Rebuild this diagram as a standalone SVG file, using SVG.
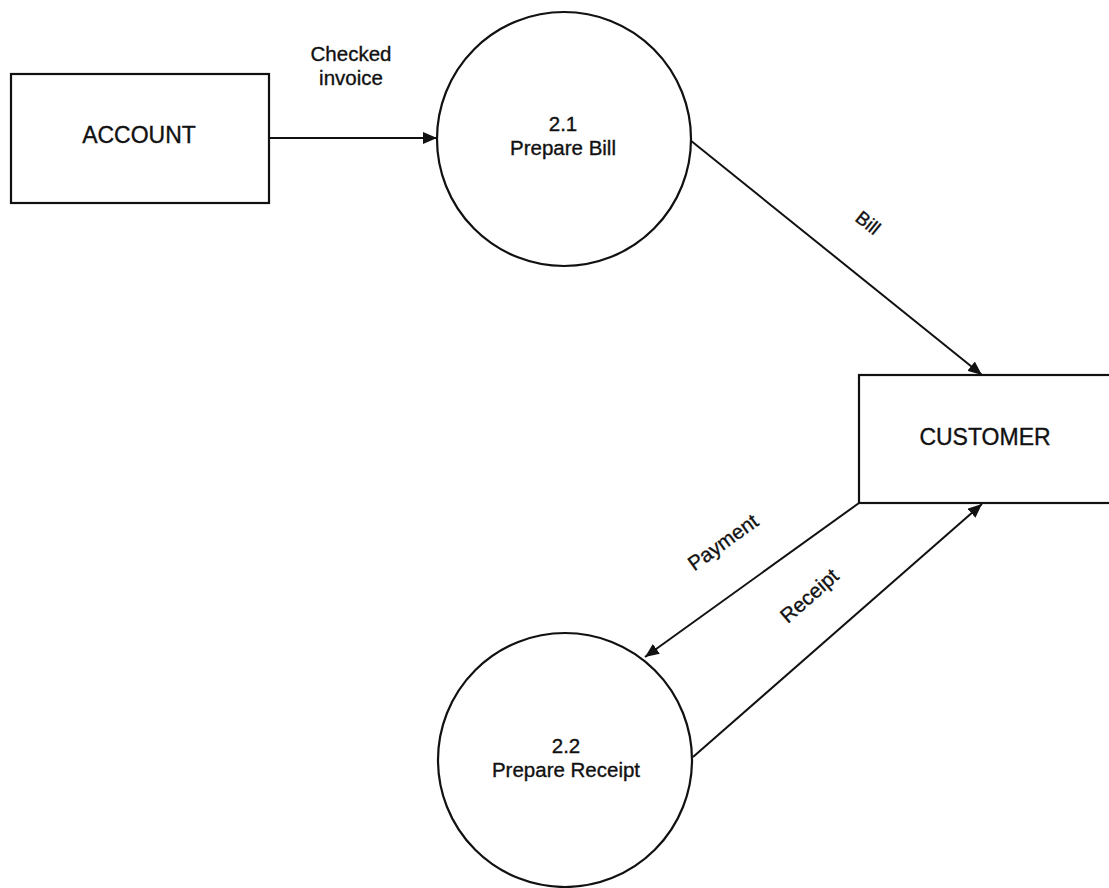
<svg xmlns="http://www.w3.org/2000/svg" width="1109" height="888" viewBox="0 0 1109 888">
  <style>
    .entity { fill: #fff; stroke: #111; stroke-width: 2.2; }
    .process { fill: #fff; stroke: #111; stroke-width: 2.2; }
    .flow { fill: none; stroke: #111; stroke-width: 2; }
    .label { font-family: "Liberation Sans", Arial, sans-serif; fill: #111; stroke: #111; stroke-width: 0.35; text-anchor: middle; }
    .big { font-size: 23px; }
    .mid { font-size: 20.5px; }
    .small { font-size: 19px; }
  </style>
  <defs>
    <marker id="arrow" viewBox="0 0 14 12" refX="14" refY="6" markerWidth="14" markerHeight="12" markerUnits="userSpaceOnUse" orient="auto">
      <path d="M0,0 L14,6 L0,12 z" fill="#111"/>
    </marker>
  </defs>
  <rect width="1109" height="888" fill="#fff"/>

  <!-- data flows -->
  <g id="connectors">
    <line class="flow" x1="269" y1="138" x2="437" y2="138" marker-end="url(#arrow)"/>
    <line class="flow" x1="690" y1="140" x2="982" y2="375" marker-end="url(#arrow)"/>
    <line class="flow" x1="859" y1="503" x2="645" y2="657" marker-end="url(#arrow)"/>
    <line class="flow" x1="693" y1="757" x2="982" y2="504" marker-end="url(#arrow)"/>
    <text class="label mid" x="351" y="61">Checked</text>
    <text class="label mid" x="351" y="85">invoice</text>
    <text class="label small" transform="translate(864,228) rotate(38.8)">Bill</text>
    <text class="label mid" transform="translate(727,548) rotate(-35.7)">Payment</text>
    <text class="label mid" transform="translate(814,601) rotate(-41.2)">Receipt</text>
  </g>

  <g id="account">
    <rect class="entity" x="11" y="74" width="258" height="129"/>
    <text class="label big" x="139" y="143">ACCOUNT</text>
  </g>

  <g id="prepare-bill">
    <circle class="process" cx="564" cy="139" r="127"/>
    <text class="label mid" x="563" y="131">2.1</text>
    <text class="label mid" x="563" y="155">Prepare Bill</text>
  </g>

  <g id="customer">
    <rect class="entity" x="859" y="375" width="260" height="128"/>
    <text class="label big" x="985" y="445">CUSTOMER</text>
  </g>

  <g id="prepare-receipt">
    <circle class="process" cx="565" cy="760" r="127"/>
    <text class="label mid" x="566" y="753">2.2</text>
    <text class="label mid" x="566" y="777">Prepare Receipt</text>
  </g>
</svg>
